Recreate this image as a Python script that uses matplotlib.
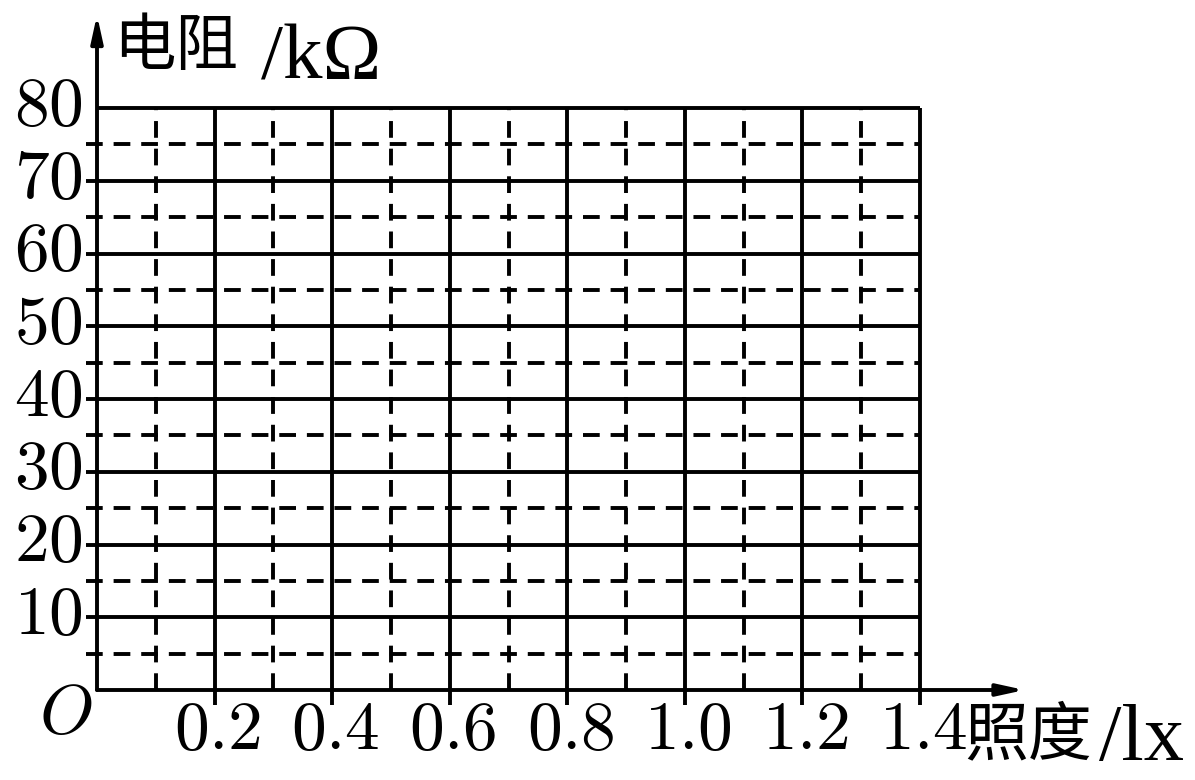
import matplotlib
matplotlib.use("Agg")
import matplotlib.pyplot as plt

plt.rcParams.update({
    "mathtext.fontset": "cm",
    "font.family": ["Liberation Serif", "Noto Sans CJK SC"],
})

# grid values
x_major = [0.2, 0.4, 0.6, 0.8, 1.0, 1.2, 1.4]
x_minor = [0.1, 0.3, 0.5, 0.7, 0.9, 1.1, 1.3]
y_major = [10, 20, 30, 40, 50, 60, 70]
y_minor = [5, 15, 25, 35, 45, 55, 65, 75]
y_top = 80
x_labels = ["0.2", "0.4", "0.6", "0.8", "1.0", "1.2", "1.4"]
y_labels = ["10", "20", "30", "40", "50", "60", "70", "80"]
y_ticks = [10, 20, 30, 40, 50, 60, 70, 80]
x_max = 1.4

LW = 2.8
DASH = (0, (4.3, 2.8))  # in units of linewidth

fig = plt.figure(figsize=(11.95, 7.8), dpi=100)
ax = fig.add_axes([97 / 1195, 1 - 690 / 780, 823 / 1195, 582 / 780])
ax.set_xlim(0, x_max)
ax.set_ylim(0, y_top)
ax.axis("off")

ext_x = -0.019   # short stub left of the y axis
ext_y = -2.1     # short stub below the x axis

# dashed minor grid
ax.hlines(y_minor, ext_x, x_max, colors="k", lw=LW, linestyles=DASH, clip_on=False)
ax.vlines(x_minor, 0, y_top, colors="k", lw=LW, linestyles=DASH, clip_on=False)

# solid major grid
ax.hlines(y_major, ext_x, x_max, colors="k", lw=LW, clip_on=False)
ax.hlines([y_top], 0, x_max, colors="k", lw=LW, clip_on=False)
ax.vlines(x_major, ext_y, y_top, colors="k", lw=LW, clip_on=False)

# axes with arrows
arrow = dict(arrowstyle="-|>,head_length=1.6,head_width=0.35", lw=LW, color="k",
             shrinkA=0, shrinkB=0, mutation_scale=10)
ax.annotate("", xy=(0, 92.8), xytext=(0, 0), arrowprops=arrow, annotation_clip=False)
ax.annotate("", xy=(1.578, 0), xytext=(0, 0), arrowprops=arrow, annotation_clip=False)

FS = 50
for y, lab in zip(y_ticks, y_labels):
    ax.text(-0.024, y, f"${lab}$", ha="right", va="center", fontsize=FS, clip_on=False)
for x, lab in zip(x_major, x_labels):
    ax.text(x + 0.006, -5.8, f"${lab}$", ha="center", va="center", fontsize=FS, clip_on=False)

ax.text(-0.053, -3.6, "$O$", ha="center", va="center", fontsize=FS, clip_on=False)

# axis titles: Chinese part and unit part at different sizes
ax.text(0.027, 88.0, "电阻", ha="left", va="center", fontsize=45, clip_on=False)
ax.text(0.279, 84.0, "/kΩ", ha="left", va="baseline", fontsize=57, clip_on=False)
ax.text(1.476, -6.6, "照度", ha="left", va="center", fontsize=46, clip_on=False)
ax.text(1.704, -9.6, "/lx", ha="left", va="baseline", fontsize=58, clip_on=False)

fig.savefig("out.png", dpi=100)
